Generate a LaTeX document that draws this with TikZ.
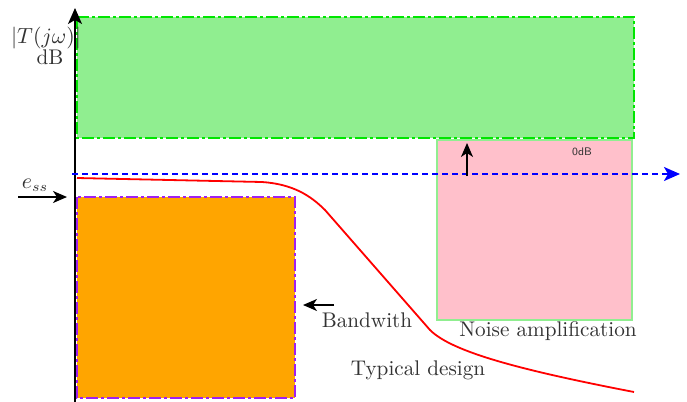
\documentclass[tikz,border=0pt]{standalone}
\usetikzlibrary{arrows.meta}
\definecolor{lgreen}{RGB}{144,238,144}
\definecolor{bgreen}{RGB}{0,230,0}
\definecolor{lpink}{RGB}{255,192,203}
\definecolor{orng}{RGB}{255,165,0}
\definecolor{purp}{RGB}{160,32,240}
\begin{document}
\begin{tikzpicture}[x=0.5pt,y=-0.5pt,
  lbl/.style={text=black!80, inner sep=0pt, font=\fontsize{10.6}{12}\selectfont},
  dashdot/.style={line width=1pt, dash pattern=on 6pt off 1.5pt on 1.5pt off 1.5pt},
  arr/.style={-{Stealth[length=7pt,width=6pt,inset=2pt]}, line width=0.8pt}]
\useasboundingbox (0,0) rectangle (687,402);
% regions
\fill[lgreen] (77,17) rectangle (634,138);
\draw[bgreen, dashdot] (77,17) rectangle (634,138);
\fill[lpink] (437,140) rectangle (632,320);
\draw[lgreen, line width=1pt] (437,140) rectangle (632,320);
\fill[orng] (77,197) rectangle (295,398);
\draw[purp, dashdot] (77,197) rectangle (295,398);
% axis
\coordinate (ax0) at (75,402);
\coordinate (ax1) at (75,8);
\draw[-{Stealth[length=8pt,width=7pt,inset=2pt]}, line width=0.8pt] (ax0) -- (ax1);
% 0 dB line
\coordinate (z0) at (72,174);
\coordinate (z1) at (680,174);
\draw[blue, line width=1pt, dash pattern=on 3pt off 2pt, -{Stealth[length=8pt,width=7pt,inset=2pt]}] (z0) -- (z1);
% typical design
\draw[red, line width=0.9pt] (77,178) -- (262,182) .. controls (292,184) and (310,195) .. (325,210) -- (430,330) .. controls (452,352) and (520,370) .. (634,392);
% labels
\node[lbl] (T) at (46,38) {$|T(j\omega)|$};
\node[lbl] (dB) at (50,57) {dB};
\node[lbl] (ess) at (35,185) {$e_{ss}$};
\node[lbl] (bw) at (367,320) {Bandwith};
\node[lbl] (na) at (548,331) {Noise amplification};
\node[lbl] (td) at (418,370) {Typical design};
\node[lbl, font=\sffamily\fontsize{5.5}{6}\selectfont] (zd) at (582,152) {0dB};
% arrows
\coordinate (e0) at (18,197);
\coordinate (e1) at (67,197);
\draw[arr] (e0) -- (e1);
\coordinate (u0) at (467,176);
\coordinate (u1) at (467,143);
\draw[arr] (u0) -- (u1);
\coordinate (b0) at (334,305);
\coordinate (b1) at (303,305);
\draw[arr] (b0) -- (b1);
\end{tikzpicture}
\end{document}
